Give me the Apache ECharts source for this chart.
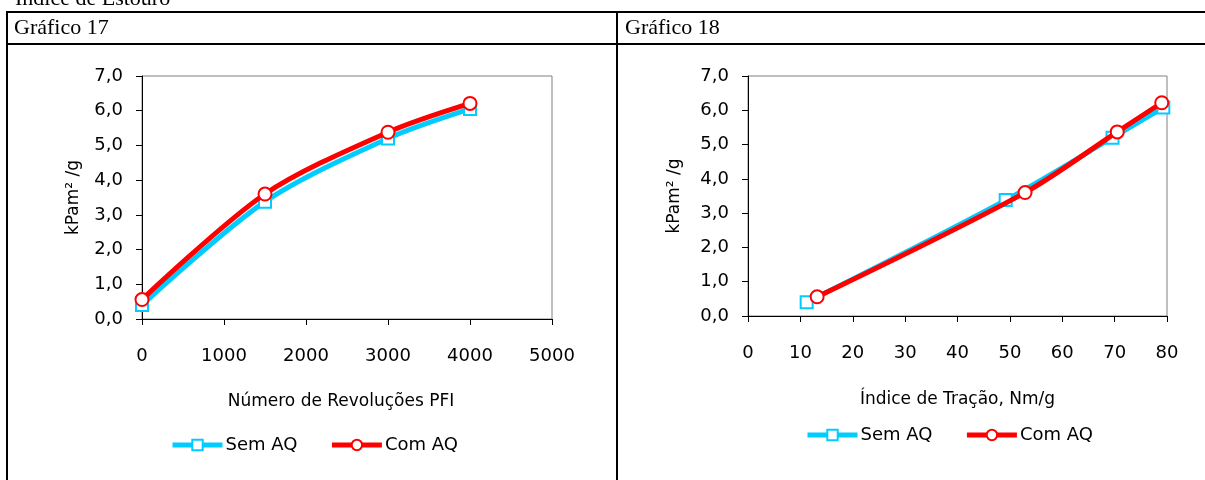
<!DOCTYPE html>
<html><head><meta charset="utf-8">
<script src="https://cdn.jsdelivr.net/npm/echarts@6/dist/echarts.min.js"></script>
<style>html,body{margin:0;padding:0;background:#fff;}#c{width:1205px;height:480px;}</style>
</head><body><div id="c"></div>
<script>
// Data
const pageTitle = 'Índice de Estouro';
const panelTitles = ['Gráfico 17', 'Gráfico 18'];
const seriesNames = ['Sem AQ', 'Com AQ'];
const yAxisName = 'kPam² /g';
const xAxisNames = ['Número de Revoluções PFI', 'Índice de Tração, Nm/g'];
// Gráfico 17: x = número de revoluções PFI
const revPFI = [0, 1500, 3000, 4000];
const semAQ_17 = [0.40, 3.38, 5.20, 6.05];
const comAQ_17 = [0.56, 3.60, 5.38, 6.21];
// Gráfico 18: x = índice de tração
const tracaoSem = [11.2, 49.2, 69.6, 79.3];
const semAQ_18 = [0.40, 3.38, 5.20, 6.08];
const tracaoCom = [13.2, 52.9, 70.5, 79.0];
const comAQ_18 = [0.56, 3.60, 5.37, 6.22];

const zip = (xs, ys) => xs.map((x, i) => [x, ys[i]]);
const CYAN = '#00CCFF', RED = '#FF0000';
const FONT = 'DejaVu Sans';

const chart = echarts.init(document.getElementById('c'), null, {renderer: 'canvas'});

function yAxis(gi, gap) {
  return {
    type: 'value', gridIndex: gi, min: 0, max: 7, interval: 1,
    name: yAxisName, nameLocation: 'middle', nameGap: gap, nameRotate: 90,
    nameTextStyle: {color: '#000', fontFamily: FONT, fontSize: 17},
    axisLine: {show: true, lineStyle: {color: '#000', width: 1}},
    axisTick: {show: true, inside: false, length: 6, lineStyle: {color: '#000'}},
    axisLabel: {color: '#000', fontFamily: FONT, fontSize: 18, margin: 19,
      formatter: v => v.toFixed(1).replace('.', ',')},
    splitLine: {show: false}
  };
}
function xAxis(gi, max, interval, name, gap, pad) {
  return {
    type: 'value', gridIndex: gi, min: 0, max: max, interval: interval,
    name: name, nameLocation: 'middle', nameGap: gap,
    nameTextStyle: {color: '#000', fontFamily: FONT, fontSize: 17, padding: pad},
    axisLine: {show: true, onZero: false, lineStyle: {color: '#000', width: 1}},
    axisTick: {show: true, inside: false, length: 6, lineStyle: {color: '#000'}},
    axisLabel: {color: '#000', fontFamily: FONT, fontSize: 18, margin: 28,
      formatter: v => String(v)},
    splitLine: {show: false}
  };
}
function line(name, data, gi, color, symbol, z) {
  return {
    type: 'line', name: name, xAxisIndex: gi, yAxisIndex: gi, data: data,
    smooth: 0.3, symbol: symbol, symbolSize: symbol === 'rect' ? 12 : 13,
    lineStyle: {color: color, width: 5},
    itemStyle: {color: '#fff', borderColor: color, borderWidth: 2},
    z: z, animation: false
  };
}
function legend(left, top) {
  return {data: seriesNames, left: left, top: top, padding: 0, itemWidth: 50, itemHeight: 13, itemGap: 32,
    lineStyle: {width: 5}, textStyle: {color: '#000', fontFamily: FONT, fontSize: 18, padding: [0, 0, 0, -2]}};
}

const option = {
  animation: false,
  backgroundColor: '#fff',
  grid: [
    {left: 142, top: 76, width: 410, height: 243, show: true, borderColor: '#808080', borderWidth: 1, containLabel: false},
    {left: 748, top: 76, width: 419, height: 240, show: true, borderColor: '#808080', borderWidth: 1, containLabel: false}
  ],
  xAxis: [xAxis(0, 5000, 1000, xAxisNames[0], 74, [0, 12, 0, 0]), xAxis(1, 80, 10, xAxisNames[1], 75, [0, 0, 0, 0])],
  yAxis: [yAxis(0, 60), yAxis(1, 65)],
  legend: [legend(170, 436), legend(805, 426)],
  series: [
    line(seriesNames[0], zip(revPFI, semAQ_17), 0, CYAN, 'rect', 2),
    line(seriesNames[1], zip(revPFI, comAQ_17), 0, RED, 'circle', 3),
    line(seriesNames[0], zip(tracaoSem, semAQ_18), 1, CYAN, 'rect', 2),
    line(seriesNames[1], zip(tracaoCom, comAQ_18), 1, RED, 'circle', 3)
  ],
  graphic: [
    {type: 'text', left: 15, top: -12, style: {text: pageTitle, font: '22px "Liberation Serif"', fill: '#000'}},
    {type: 'rect', shape: {x: 7, y: 12, width: 1300, height: 600}, style: {fill: 'none', stroke: '#000', lineWidth: 2}},
    {type: 'line', shape: {x1: 7, y1: 44, x2: 1205, y2: 44}, style: {stroke: '#000', lineWidth: 2}},
    {type: 'line', shape: {x1: 617, y1: 12, x2: 617, y2: 480}, style: {stroke: '#000', lineWidth: 2}},
    {type: 'text', left: 14, top: 17, style: {text: panelTitles[0], font: '22px "Liberation Serif"', fill: '#000'}},
    {type: 'text', left: 625, top: 17, style: {text: panelTitles[1], font: '22px "Liberation Serif"', fill: '#000'}}
  ]
};
chart.setOption(option);
</script></body></html>
